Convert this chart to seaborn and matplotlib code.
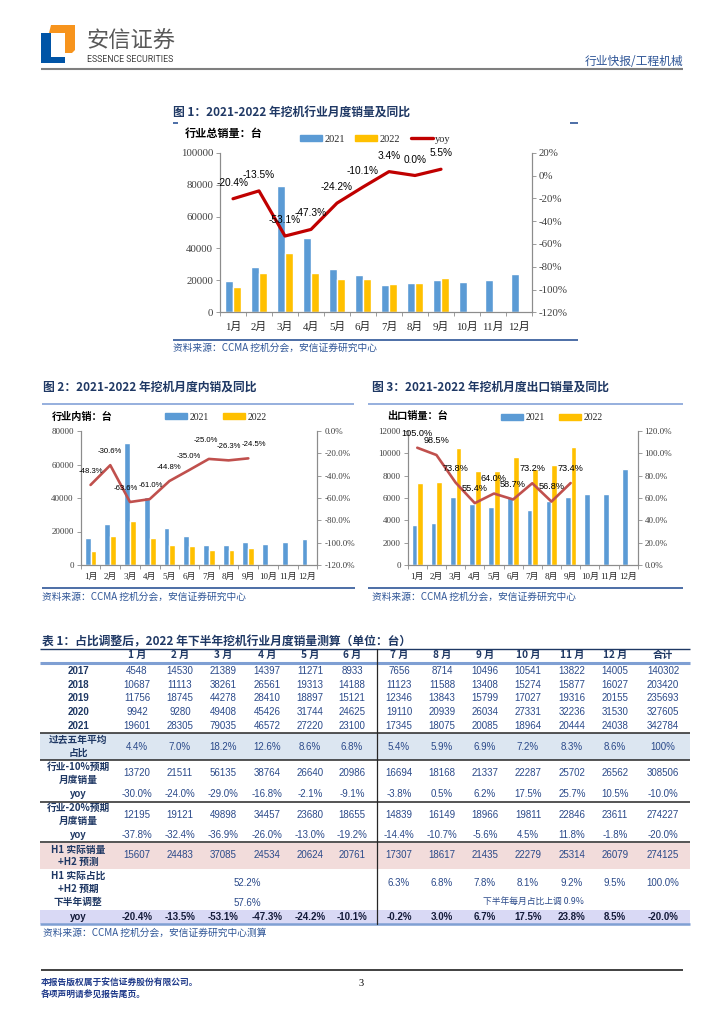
import numpy as np
import pandas as pd
import matplotlib
matplotlib.use("Agg")
import matplotlib.pyplot as plt
from matplotlib.patches import Rectangle, Polygon, Patch
from matplotlib.lines import Line2D
from matplotlib.ticker import MultipleLocator, FixedLocator, FuncFormatter
import seaborn as sns

# ── Data ──────────────────────────────────────────────────────────
MONTHS = ["1月", "2月", "3月", "4月", "5月", "6月",
          "7月", "8月", "9月", "10月", "11月", "12月"]

# Fig 1: total excavator sales (units) and yoy (%)
TOTAL_2021 = [19601, 28305, 79035, 46572, 27220, 23100, 17345, 18075, 20085, 18964, 20444, 24038]
TOTAL_2022 = [15607, 24483, 37085, 24534, 20624, 20761, 17900, 18075, 21190]
TOTAL_YOY = [-20.4, -13.5, -53.1, -47.3, -24.2, -10.1, 3.4, 0.0, 5.5]

# Fig 2: domestic sales
DOM_2021 = [16000, 24600, 72800, 40700, 22000, 17100, 12200, 12200, 13800, 12800, 13900, 15500]
DOM_2022 = [8300, 17100, 26200, 16000, 12100, 11100, 9100, 9000, 10400]
DOM_YOY = [-48.3, -30.6, -63.6, -61.0, -44.8, -35.0, -25.0, -26.3, -24.5]

# Fig 3: export sales
EXP_2021 = [3600, 3750, 6050, 5450, 5150, 6100, 4950, 5700, 6100, 6350, 6400, 8600]
EXP_2022 = [7300, 7400, 10450, 8450, 8450, 9650, 8600, 8950, 10600]
EXP_YOY = [105.0, 98.5, 73.8, 55.4, 64.0, 58.7, 73.2, 56.8, 73.4]

# Table 1
TABLE_HEADER = ["1 月", "2 月", "3 月", "4 月", "5 月", "6 月",
                "7 月", "8 月", "9 月", "10 月", "11 月", "12 月", "合计"]
YEARS = ["2017", "2018", "2019", "2020", "2021"]
SALES_2017 = [4548, 14530, 21389, 14397, 11271, 8933, 7656, 8714, 10496, 10541, 13822, 14005, 140302]
SALES_2018 = [10687, 11113, 38261, 26561, 19313, 14188, 11123, 11588, 13408, 15274, 15877, 16027, 203420]
SALES_2019 = [11756, 18745, 44278, 28410, 18897, 15121, 12346, 13843, 15799, 17027, 19316, 20155, 235693]
SALES_2020 = [9942, 9280, 49408, 45426, 31744, 24625, 19110, 20939, 26034, 27331, 32236, 31530, 327605]
SALES_2021 = [19601, 28305, 79035, 46572, 27220, 23100, 17345, 18075, 20085, 18964, 20444, 24038, 342784]
AVG_SHARE = ["4.4%", "7.0%", "18.2%", "12.6%", "8.6%", "6.8%", "5.4%", "5.9%", "6.9%",
             "7.2%", "8.3%", "8.6%", "100%"]
M10_SALES = [13720, 21511, 56135, 38764, 26640, 20986, 16694, 18168, 21337, 22287, 25702, 26562, 308506]
M10_YOY = ["-30.0%", "-24.0%", "-29.0%", "-16.8%", "-2.1%", "-9.1%", "-3.8%", "0.5%", "6.2%",
           "17.5%", "25.7%", "10.5%", "-10.0%"]
M20_SALES = [12195, 19121, 49898, 34457, 23680, 18655, 14839, 16149, 18966, 19811, 22846, 23611, 274227]
M20_YOY = ["-37.8%", "-32.4%", "-36.9%", "-26.0%", "-13.0%", "-19.2%", "-14.4%", "-10.7%", "-5.6%",
           "4.5%", "11.8%", "-1.8%", "-20.0%"]
H1H2_SALES = [15607, 24483, 37085, 24534, 20624, 20761, 17307, 18617, 21435, 22279, 25314, 26079, 274125]
H1_SHARE = "52.2%"
H1_ADJ = "57.6%"
H2_SHARE = ["6.3%", "6.8%", "7.8%", "8.1%", "9.2%", "9.5%", "100.0%"]
H2_NOTE = "下半年每月占比上调 0.9%"
FINAL_YOY = ["-20.4%", "-13.5%", "-53.1%", "-47.3%", "-24.2%", "-10.1%", "-0.2%", "3.0%", "6.7%",
             "17.5%", "23.8%", "8.5%", "-20.0%"]

# ── Style ─────────────────────────────────────────────────────────
W, H = 724, 1024
BLUE = "#5B9BD5"
GOLD = "#FFC000"
NAVY = "#1F3864"
VAL = "#2B4A8A"
SRC = "#2E5597"
CJK = "Noto Sans CJK SC"
SERIF = ["Liberation Serif", CJK]
SANS = ["Liberation Sans", CJK]

sns.set_theme(style="white")
plt.rcParams["font.family"] = [CJK, "DejaVu Sans"]
plt.rcParams["axes.unicode_minus"] = False

fig = plt.figure(figsize=(W / 100, H / 100), dpi=100)
page = fig.add_axes([0, 0, 1, 1])
page.set_xlim(0, W)
page.set_ylim(H, 0)
page.axis("off")


def place(l, t, r, b):
    return fig.add_axes([l / W, 1 - b / H, (r - l) / W, (b - t) / H])


def hline(y, x0, x1, color, lw):
    page.plot([x0, x1], [y, y], color=color, lw=lw, solid_capstyle="butt")


def txt(x, y, s, size, color="black", ha="center", weight="normal", family=None):
    page.text(x, y, s, fontsize=size, color=color, ha=ha, va="center",
              fontweight=weight, family=family or [CJK, "DejaVu Sans"])


# ── Page header / footer ──────────────────────────────────────────
page.add_patch(Polygon([(49, 33), (51, 25), (75, 25), (75, 50), (72, 53), (65, 53), (65, 33)],
                       closed=True, color="#F7941D", lw=0))
page.add_patch(Polygon([(41, 33), (51, 33), (51, 57), (65, 57), (65, 63), (41, 63)],
                       closed=True, color="#0054A6", lw=0))
txt(86, 41, "安信证券", 16, color="#595959", ha="left")
txt(87, 59, "ESSENCE SECURITIES", 6.3, color="#404040", ha="left", family=["Roboto"])
txt(683, 61.5, "行业快报/工程机械", 8.5, color=SRC, ha="right")
hline(68.5, 41, 683, "#7F7F7F", 1.5)

hline(970, 41, 683, "#404040", 1.4)
txt(41, 983, "本报告版权属于安信证券股份有限公司。", 6.3, color="#1F3A8A", ha="left", weight="bold")
txt(41, 995, "各项声明请参见报告尾页。", 6.3, color="#1F3A8A", ha="left", weight="bold")
txt(361, 983, "3", 7.5, ha="center", family=SERIF)


# ── Charts ────────────────────────────────────────────────────────
def draw_chart(ax, y21, y22, yoy, ymax, ystep, rlim, rfmt, line_color, lw,
               label_size, tick_size, label_dy, xpad, shifts=None):
    df = pd.DataFrame({
        "月份": MONTHS + MONTHS[:len(y22)],
        "年份": ["2021"] * len(y21) + ["2022"] * len(y22),
        "销量": y21 + y22,
    })
    sns.barplot(data=df, x="月份", y="销量", hue="年份", order=MONTHS,
                hue_order=["2021", "2022"], palette={"2021": BLUE, "2022": GOLD},
                width=0.6, gap=0, saturation=1, errorbar=None, legend=False, ax=ax)
    ax.set_ylim(0, ymax)
    ax.yaxis.set_major_locator(MultipleLocator(ystep))
    ax.set_xlabel("")
    ax.set_ylabel("")

    ax2 = ax.twinx()
    sns.lineplot(x=np.arange(len(yoy)), y=yoy, ax=ax2, color=line_color, linewidth=lw)
    ax2.set_ylim(*rlim)
    ax2.yaxis.set_major_locator(MultipleLocator(20))
    ax2.yaxis.set_major_formatter(FuncFormatter(lambda v, p: rfmt.format(v)))
    ax2.set_xlabel("")
    ax2.set_ylabel("")
    ax.set_xlim(-0.5, 11.5)

    for i, v in enumerate(yoy):
        dx, dy = shifts[i] if shifts else (0, 0)
        ax2.annotate(f"{v:.1f}%", (i, v),
                     xytext=(dx, label_dy + dy), textcoords="offset points",
                     ha="center", va="center", fontsize=label_size,
                     color="black", family=SANS)

    for a in (ax, ax2):
        a.spines["top"].set_visible(False)
        for s in ("left", "right", "bottom"):
            a.spines[s].set_color("#8C8C8C")
            a.spines[s].set_linewidth(0.8)
    ax.tick_params(axis="y", length=3, width=0.6, color="#8C8C8C", pad=2,
                   labelsize=tick_size, labelcolor="#404040", labelfontfamily=SERIF, left=True)
    ax2.tick_params(axis="y", length=3, width=0.6, color="#8C8C8C", pad=2,
                    labelsize=tick_size, labelcolor="#404040", labelfontfamily=SERIF, right=True)
    ax.tick_params(axis="x", length=0, pad=xpad, labelsize=tick_size,
                   labelcolor="#262626", labelfontfamily=SERIF)
    ax.xaxis.set_minor_locator(FixedLocator(np.arange(-0.5, 12, 1)))
    ax.tick_params(axis="x", which="minor", bottom=True, length=3, width=0.6, color="#8C8C8C")
    return ax2


def chart_legend(x, y, size, with_line, color_line=None, hl=2.2, cs=1.0):
    handles = [Patch(color=BLUE, label="2021"), Patch(color=GOLD, label="2022")]
    if with_line:
        handles.append(Line2D([], [], color=color_line, lw=2.4, label="yoy"))
    fig.legend(handles=handles, loc="center left", bbox_to_anchor=(x / W, 1 - y / H),
               ncol=len(handles), frameon=False, borderpad=0, borderaxespad=0,
               handlelength=hl, handleheight=0.6, handletextpad=0.25, columnspacing=cs,
               prop={"family": SERIF, "size": size})


# Figure 1
txt(173, 112.7, "图 1：2021-2022 年挖机行业月度销量及同比", 8.5, color=NAVY, ha="left", weight="bold")
hline(122.5, 173, 178, SRC, 1.2)
hline(122.5, 570, 578, SRC, 1.2)
txt(185, 133, "行业总销量：台", 8, ha="left", weight="bold")
ax1 = place(220, 152.7, 532, 312.3)
draw_chart(ax1, TOTAL_2021, TOTAL_2022, TOTAL_YOY, 100000, 20000, (-120, 20), "{:.0f}%",
           "#C00000", 2.3, 7.3, 7.8, 11.5, 7)
chart_legend(300, 139, 7.5, True, "#C00000", hl=2.1, cs=1.0)
hline(339.5, 173, 578, SRC, 1.2)
txt(173, 348, "资料来源：CCMA 挖机分会，安信证券研究中心", 7, color=SRC, ha="left")

# Figure 2
txt(43, 387, "图 2：2021-2022 年挖机月度内销及同比", 8.5, color=NAVY, ha="left", weight="bold")
hline(404, 42, 354, "#8EA9DB", 1.3)
txt(52, 417, "行业内销：台", 7.3, ha="left", weight="bold")
ax2 = place(80.7, 431, 317.3, 565)
draw_chart(ax2, DOM_2021, DOM_2022, DOM_YOY, 80000, 20000, (-120, 0), "{:.1f}%",
           "#C0504D", 1.9, 5.6, 6.5, 10, 6,
           shifts=[(0, 0), (0, 0), (-3, 0), (1, 0), (0, 0), (0, 0), (-2, 3), (0, 0), (4, 0)])
chart_legend(165, 417, 7, False, hl=2.3, cs=1.4)
hline(588, 42, 355, SRC, 1.2)
txt(42, 597, "资料来源：CCMA 挖机分会，安信证券研究中心", 7, color=SRC, ha="left")

# Figure 3
txt(372, 387, "图 3：2021-2022 年挖机月度出口销量及同比", 8.5, color=NAVY, ha="left", weight="bold")
hline(404, 368, 683, "#8EA9DB", 1.3)
txt(387, 416, "出口销量：台", 7.3, ha="left", weight="bold")
ax3 = place(407.7, 431, 637.7, 565)
draw_chart(ax3, EXP_2021, EXP_2022, EXP_YOY, 12000, 2000, (0, 120), "{:.1f}%",
           "#C0504D", 1.9, 6.6, 6.5, 10.5, 6)
chart_legend(501, 418, 7, False, hl=2.3, cs=1.4)
hline(588, 368, 683, SRC, 1.2)
txt(372, 597, "资料来源：CCMA 挖机分会，安信证券研究中心", 7, color=SRC, ha="left")

# ── Table 1 ───────────────────────────────────────────────────────
COL_X = [137, 180, 223, 267, 310, 352, 399, 442, 485, 528, 572, 615, 663]
LAB_X = 78
T_L, T_R, DIV_X = 40, 690, 377

txt(42, 642, "表 1：占比调整后，2022 年下半年挖机行业月度销量测算（单位：台）", 8.5,
    color=NAVY, ha="left", weight="bold")

page.add_patch(Rectangle((T_L, 733), T_R - T_L, 27, color="#DCE6F1", lw=0))
page.add_patch(Rectangle((T_L, 843), T_R - T_L, 26, color="#F2DCDB", lw=0))
page.add_patch(Rectangle((T_L, 910), T_R - T_L, 13.5, color="#D9D9F5", lw=0))

hline(649, T_L, T_R, NAVY, 1.0)
hline(663, T_L, T_R, "#7F9FD3", 2.2)
for yy in (733, 760, 802, 842):
    hline(yy, T_L, T_R, "#262626", 1.1)
hline(924, T_L, T_R, "#7F9FD3", 1.8)
page.plot([DIV_X, DIV_X], [649, 924], color="#262626", lw=0.9)


def row(y, values, size=7, weight="normal", color=VAL):
    for x, v in zip(COL_X, values):
        txt(x, y, str(v), size, color=color, weight=weight, family=SANS)


for x, h in zip(COL_X, TABLE_HEADER):
    txt(x, 655, h, 7.3, color=NAVY, weight="bold")

for y, yr, vals in zip([671, 684.5, 698, 712, 726], YEARS,
                       [SALES_2017, SALES_2018, SALES_2019, SALES_2020, SALES_2021]):
    txt(LAB_X, y, yr, 7, color=NAVY, weight="bold", family=SANS)
    row(y, vals)

txt(LAB_X, 739.5, "过去五年平均", 7, color=NAVY, weight="bold")
txt(LAB_X, 753, "占比", 7, color=NAVY, weight="bold")
row(747, AVG_SHARE)

txt(LAB_X, 767, "行业-10%预期", 7, color=NAVY, weight="bold")
txt(LAB_X, 780, "月度销量", 7, color=NAVY, weight="bold")
row(773.5, M10_SALES)
txt(LAB_X, 794, "yoy", 7, color=NAVY, weight="bold", family=SANS)
row(794, M10_YOY)

txt(LAB_X, 808, "行业-20%预期", 7, color=NAVY, weight="bold")
txt(LAB_X, 821, "月度销量", 7, color=NAVY, weight="bold")
row(815, M20_SALES)
txt(LAB_X, 835, "yoy", 7, color=NAVY, weight="bold", family=SANS)
row(835, M20_YOY)

txt(LAB_X, 849.5, "H1 实际销量", 7, color=NAVY, weight="bold")
txt(LAB_X, 862, "+H2 预测", 7, color=NAVY, weight="bold")
row(855.5, H1H2_SALES)

txt(LAB_X, 876, "H1 实际占比", 7, color=NAVY, weight="bold")
txt(LAB_X, 889, "+H2 预期", 7, color=NAVY, weight="bold")
txt(LAB_X, 902, "下半年调整", 7, color=NAVY, weight="bold")
txt(247, 883, H1_SHARE, 7, color=VAL, family=SANS)
txt(247, 903, H1_ADJ, 7, color=VAL, family=SANS)
for x, v in zip(COL_X[6:], H2_SHARE):
    txt(x, 882.5, v, 7, color=VAL, family=SANS)
txt(533, 901, H2_NOTE, 6.3, color=VAL)

txt(LAB_X, 917, "yoy", 7, color="#141B3A", weight="bold", family=SANS)
row(917, FINAL_YOY, weight="bold", color="#141B3A")

txt(43, 932.5, "资料来源：CCMA 挖机分会，安信证券研究中心测算", 7, color=SRC, ha="left")

fig.savefig("out.png", dpi=100)
